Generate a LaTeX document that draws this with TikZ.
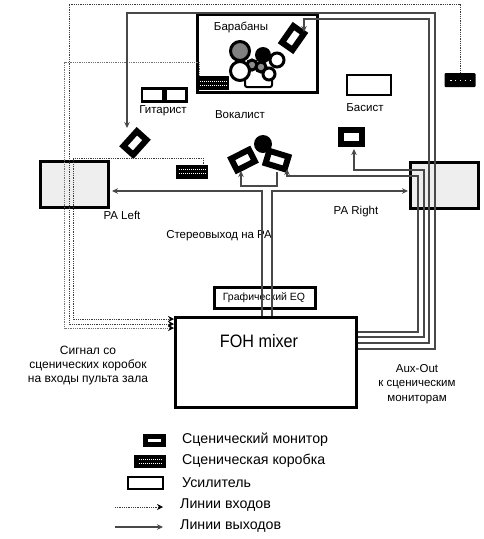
\documentclass[tikz,border=0pt]{standalone}
\usepackage{fontspec}
\setmainfont{Liberation Sans}
\usepackage{xcolor}
\usetikzlibrary{arrows.meta,positioning,calc}
\definecolor{outc}{RGB}{72,72,72}
\definecolor{inc}{RGB}{60,60,60}
\definecolor{amppa}{RGB}{238,238,238}
\begin{document}
\begin{tikzpicture}[
  x=1pt, y=-1pt,
  font=\fontsize{11.5}{13.5}\selectfont,
  >={Stealth[length=6pt,width=5.5pt]},
  amp/.style={draw=black, line width=2.6pt, fill=white, minimum width=#1, inner sep=0pt},
  pa/.style={draw=black, line width=3pt, fill=amppa, minimum width=68pt, minimum height=46pt, inner sep=0pt},
  mon/.style={draw=black, line width=6pt, fill=white, minimum width=20pt, minimum height=13pt, inner sep=0pt},
  sbox/.style={fill=black, minimum width=32pt, minimum height=14pt, inner sep=0pt},
  drum/.style={circle, draw=black, line width=3pt, fill=white, inner sep=0pt, minimum size=#1},
  inl/.style={draw=inc, line width=0.8pt, dash pattern=on 1pt off 0.8pt, -{Stealth[length=6pt,width=6pt,fill=black,color=black]}},
  outl/.style={draw=outc, line width=1.7pt},
  lab/.style={inner sep=0pt, align=center},
  leg/.style={inner sep=0pt, anchor=west, font=\fontsize{14.2}{16}\selectfont},
]
\useasboundingbox (0,0) rectangle (484,539);
% stage
\node[draw=black, line width=3pt, minimum width=120pt, minimum height=78pt, inner sep=0pt] (riser) at (257.5,53.5) {};
\node[pa] (paL) at (74,184.5) {};
\node[pa] (paR) at (444,185) {};
\node[amp=21pt, minimum height=13pt] (ampG1) at (152.5,95) {};
\node[amp=21pt, minimum height=13pt] (ampG2) at (176,95) {};
\node[amp=44pt, minimum height=20pt] (ampB) at (369,85) {};
\node[mon, rotate=55] (monD) at (293,38) {};
\node[mon, rotate=48] (monG) at (135,143) {};
\node[mon, rotate=27] (monV1) at (243,160) {};
\node[mon, rotate=-17] (monV2) at (277,160) {};
\node[mon, minimum width=21pt, minimum height=14pt] (monB) at (351.5,137) {};
\node[circle, fill=black, minimum size=18pt, inner sep=0pt] (head) at (263,144) {};
\node[sbox] (boxD) at (213,83) {};
\node[sbox, minimum width=31pt, rounded corners=1pt] (boxR) at (460,80) {};
\node[sbox] (boxV) at (192,171.5) {};
% drum kit
\draw[black, line width=2pt, rounded corners=2pt] (245,76) -- (245,87) -- (272,87) -- (272,76);
\node[circle, fill=black, minimum size=16pt, inner sep=0pt] (kick) at (263,55) {};
\node[drum=14pt] (tomR) at (277,60) {};
\node[drum=10pt, fill=black!45] (tomA) at (252,65) {};
\node[drum=10pt, fill=black!45] (tomB) at (261,67) {};
\node[drum=19pt, fill=black!50] (cymb) at (240,51) {};
\node[drum=19pt] (snare) at (240,71) {};
\node[drum=12pt] (tomL) at (269,74) {};
% dots on the stage boxes
\foreach \b in {boxD,boxV} {
  \draw[white, line width=0.6pt, dash pattern=on 1pt off 1pt] ($(\b.west)+(3,-2)$) -- ($(\b.east)+(-3,-2)$);
  \draw[white, line width=0.6pt, dash pattern=on 1pt off 1pt] ($(\b.west)+(3,2)$) -- ($(\b.east)+(-3,2)$);
}
\draw[white, line width=1pt, dash pattern=on 1.2pt off 3.6pt] ($(boxR.west)+(6,0)$) -- ($(boxR.east)+(-4,0)$);
% mixer
\node[draw=black, line width=3pt, minimum width=181pt, minimum height=90pt, inner sep=0pt] (mixer) at (266,362.5) {};
\node[lab, font=\fontsize{18}{20}\selectfont] (foh) at (259,341) {\scalebox{0.9}[1]{FOH mixer}};
\node[draw=black, line width=2.4pt, minimum width=101pt, minimum height=21pt, inner sep=0pt] (eq) at (265,298) {};
\node[lab, font=\fontsize{10.5}{12}\selectfont] (eqt) at (264,298) {Графический EQ};
% labels
\node[lab] (tD) at (241,27) {Барабаны};
\node[lab] (tG) at (163,111) {Гитарист};
\node[lab] (tV) at (240,115) {Вокалист};
\node[lab] (tB) at (365,108) {Басист};
\node[lab] (tL) at (122,215) {PA Left};
\node[lab] (tR) at (356,212) {PA Right};
\node[lab] (tS) at (219,236) {Стереовыход на PA};
\node[lab, font=\fontsize{12}{14}\selectfont] (tIn) at (88,366) {Сигнал со\\сценических коробок\\на входы пульта зала};
\node[lab, font=\fontsize{11.5}{14.5}\selectfont] (tAux) at (417,384) {Aux-Out\\к сценическим\\мониторам};
% inputs from the stage boxes
\draw[inl] (boxR.north) |- (69,4) |- (mixer.west |- 0,324);
\draw[inl, draw=black!55] (boxD.north -| 199,0) |- (64.5,62) |- (mixer.west |- 0,328);
\draw[inl] (boxV.north -| 203,0) |- (73,158) |- (mixer.west |- 0,319);
% outputs to the PA
\coordinate (stL) at (262,191);
\coordinate (stR) at (272,191);
\coordinate (paLin) at (112,191);
\coordinate (paRin) at (408,191);
\draw[outl, ->] (mixer.north -| stL) -- (stL) -- (paLin);
\draw[outl, ->] (mixer.north -| stR) -- (stR) -- (paRin);
% aux sends to the monitors
\coordinate (inG) at (127,128);
\coordinate (inD) at (304,32);
\coordinate (inB) at (354,149);
\coordinate (inV2) at (287,169);
\coordinate (inV1) at (241,171);
\coordinate (outV2) at (277,172);
\draw[outl, ->] (mixer.east |- 0,349) -| (435,13) -| (inG);
\draw[outl, ->] (mixer.east |- 0,343) -| (429,19) -| (inD);
\draw[outl, ->] (mixer.east |- 0,337) -| (424,170) -| (inB);
\draw[outl, ->] (mixer.east |- 0,332) -| (418,176) -| (inV2);
\draw[outl, ->] (outV2) |- (241,186) -- (inV1);
% legend
\node[mon, minimum width=18pt, minimum height=8pt, line width=5pt] (lgM) at (154.5,440.5) {};
\node[sbox, minimum width=32pt, minimum height=13pt] (lgB) at (150,461.5) {};
\foreach \s in {-2,2} \draw[white, line width=0.5pt, dash pattern=on 1pt off 1pt] ($(lgB.west)+(5,\s)$) -- ($(lgB.east)+(-5,\s)$);
\node[amp=35pt, minimum height=12pt] (lgA) at (145.5,483) {};
\coordinate (lgI0) at (115,507);
\coordinate (lgI1) at (163,507);
\coordinate (lgO0) at (115,527);
\coordinate (lgO1) at (163,527);
\draw[inl] (lgI0) -- (lgI1);
\draw[outl, ->] (lgO0) -- (lgO1);
\node[leg] (ltM) at (182,440) {Сценический монитор};
\node[leg] (ltB) at (182,461) {Сценическая коробка};
\node[leg] (ltA) at (182,483) {Усилитель};
\node[leg] (ltI) at (180,505) {Линии входов};
\node[leg] (ltO) at (180,526) {Линии выходов};
\end{tikzpicture}
\end{document}
